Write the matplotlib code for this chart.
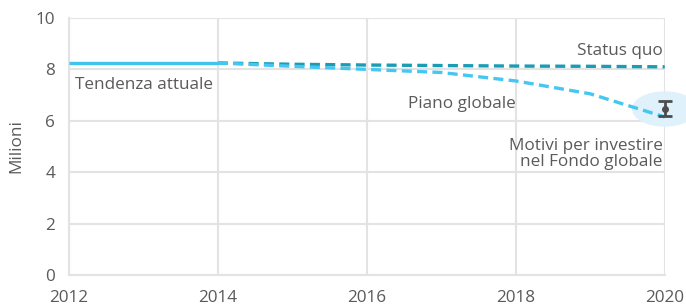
import matplotlib.pyplot as plt
from matplotlib.patches import Ellipse

plt.rcParams['font.family'] = ['Open Sans', 'DejaVu Sans']

# Data
years_actual = [2012, 2014]
actual = [8.25, 8.25]

years_proj = [2014, 2015, 2016, 2017, 2018, 2019, 2020]
status_quo = [8.25, 8.2, 8.17, 8.15, 8.13, 8.12, 8.1]
piano_globale = [8.25, 8.12, 8.0, 7.88, 7.55, 7.05, 6.15]

err_year = 2020
err_center = 6.46
err_low = 6.19
err_high = 6.77

grid_col = '#e3e3e3'
text_col = '#5a5a5a'

fig = plt.figure(figsize=(6.86, 3.08), dpi=100)
ax = fig.add_axes([0.1006, 0.107, 0.8684, 0.8346])

ax.set_xlim(2012, 2020)
ax.set_ylim(0, 10)

# Highlight ellipse around the error bar
ax.add_patch(Ellipse((err_year, err_center), 0.86, 1.32, color='#dff1fa',
                     zorder=1, clip_on=False))

ax.plot(years_proj, status_quo, color='#1a9cb4', lw=2.4, ls=(0, (3, 1.6)), zorder=3)
ax.plot(years_proj, piano_globale, color='#45c6f3', lw=2.4, ls=(0, (3, 1.6)), zorder=3)
ax.plot(years_actual, actual, color='#3fc4ef', lw=2.4, zorder=4, solid_capstyle='butt')

ax.errorbar([err_year], [err_center],
            yerr=[[err_center - err_low], [err_high - err_center]],
            fmt='o', color='#4d4d4d', ms=4, capsize=5, elinewidth=2, capthick=2,
            zorder=5, clip_on=False)

fs = 12.3
ax.text(2012.08, 7.7, 'Tendenza attuale', fontsize=fs, color=text_col,
        ha='left', va='top')
ax.text(2019.97, 8.4, 'Status quo', fontsize=fs, color=text_col,
        ha='right', va='bottom')
ax.text(2018.0, 6.35, 'Piano globale', fontsize=fs, color=text_col,
        ha='right', va='bottom')
ax.text(2019.97, 5.35, 'Motivi per investire\nnel Fondo globale', fontsize=fs,
        color=text_col, ha='right', va='top', linespacing=1.05)

ax.set_xticks([2012, 2014, 2016, 2018, 2020])
ax.set_yticks([0, 2, 4, 6, 8, 10])
ax.tick_params(length=0, labelsize=12.3, colors=text_col)
ax.tick_params(axis='x', pad=11)
ax.tick_params(axis='y', pad=10)
ax.grid(True, color=grid_col, lw=1.5, zorder=0)
ax.set_axisbelow(True)
for s in ['top', 'right']:
    ax.spines[s].set_visible(False)
for s in ['left', 'bottom']:
    ax.spines[s].set_color(grid_col)
    ax.spines[s].set_linewidth(1.5)

ax.set_ylabel('Milioni', fontsize=fs, color=text_col, labelpad=8)

fig.savefig('out.png', dpi=100)
